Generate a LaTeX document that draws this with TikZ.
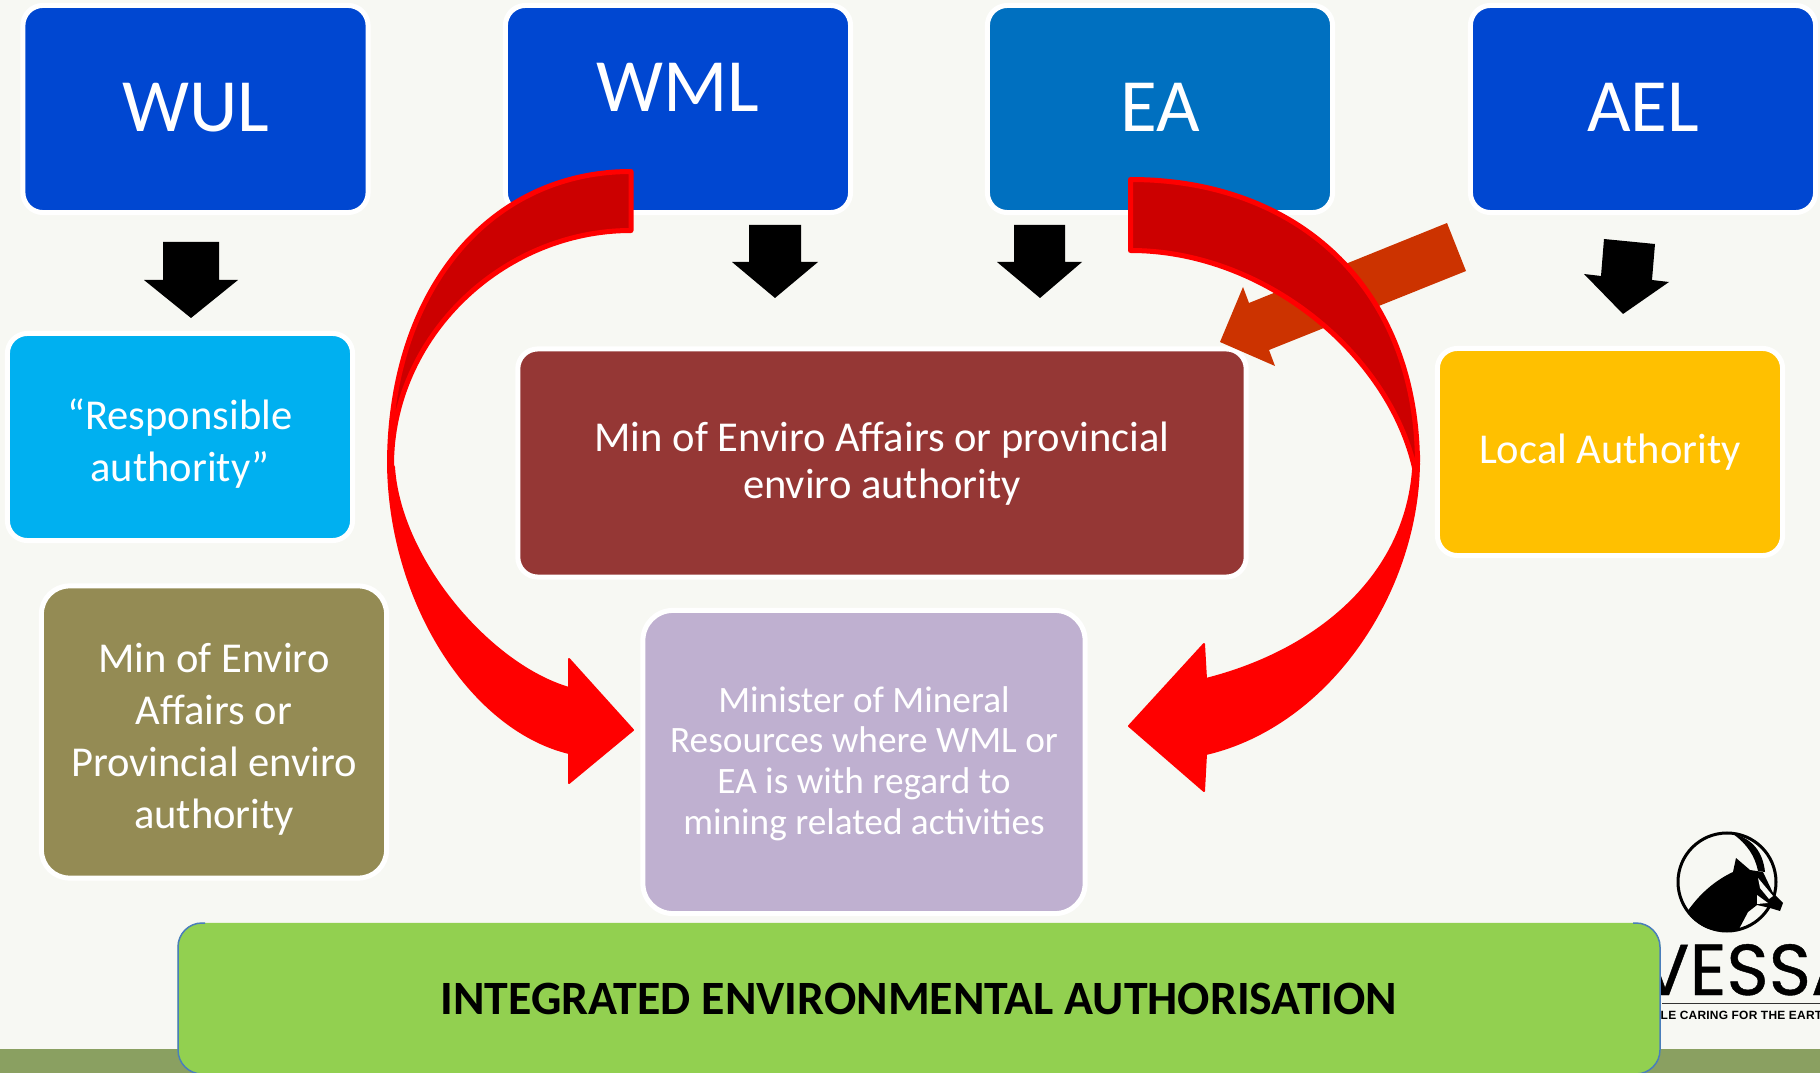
\documentclass[tikz,border=0pt]{standalone}
\usepackage{fontspec}
\setmainfont{Carlito}
\newfontfamily\logofont[FakeBold=0.6]{Poppins}
\newfontfamily\tagfont[LetterSpace=2]{Liberation Sans}
\definecolor{pagecol}{HTML}{F7F8F3}
\definecolor{bandcol}{HTML}{8AA061}
\definecolor{bluecol}{HTML}{0047D1}
\definecolor{eacol}{HTML}{0070C0}
\definecolor{cyancol}{HTML}{00B0F0}
\definecolor{olivecol}{HTML}{948B54}
\definecolor{browncol}{HTML}{953735}
\definecolor{lilaccol}{HTML}{BFB0D0}
\definecolor{yellowcol}{HTML}{FFC000}
\definecolor{greencol}{HTML}{92D050}
\definecolor{edgecol}{HTML}{4A7EBB}
\definecolor{orangecol}{HTML}{CC3300}
\definecolor{darkredcol}{HTML}{CC0000}
\newcommand{\toprule}[1]{\rule{0pt}{#1}}
\begin{document}
\begin{tikzpicture}[x=0.01cm,y=-0.01cm,
	box_node/.style={rectangle,draw=white,line width=0.05cm,rounded corners=0.2cm,inner sep=0pt,text=white,align=center,minimum width=3.45cm,minimum height=2.07cm},
	big_text/.style={font=\fontsize{21.4}{25}\selectfont},
	mid_text/.style={font=\fontsize{12.1}{14.8}\selectfont},
	wide_text/.style={font=\fontsize{12.1}{13.4}\selectfont},
	small_text/.style={font=\fontsize{10.6}{11.6}\selectfont},
	block_arrow/.style={fill=black},
	curve_head/.style={fill=red,draw=red,line width=0.02cm,line join=round},
	curve_tail/.style={fill=darkredcol,draw=red,line width=0.05cm,line join=round}]
	
	\useasboundingbox (0,0) rectangle (1820,1073);
	\fill[pagecol] (0,0) rectangle (1820,1073);
	\fill[bandcol] (0,1049) rectangle (1820,1073);
	
	\draw[line width=0.03cm] (1727,882) circle (49);
	\fill[black] (1687,912) .. controls (1700,893) and (1716,880) .. (1733,872) -- (1736,858) -- (1750,870) -- (1763,872) -- (1773,893) -- (1783,903) -- (1780,911) -- (1770,908) -- (1757,905) -- (1748,912) -- (1739,929) .. controls (1720,935) and (1700,930) .. (1687,912) -- cycle;
	\fill[black] (1733,834) .. controls (1752,838) and (1763,852) .. (1765,872) -- (1758,871) .. controls (1755,856) and (1747,844) .. (1733,834) -- cycle;
	\fill[pagecol] (1758,878) -- (1773,896) -- (1769,899) -- (1760,888) -- cycle;
	\fill[pagecol] (1757,895) -- (1768,903) -- (1757,904) -- cycle;
	\node[anchor=base west,inner sep=0pt,font=\logofont\fontsize{20.5}{24}\selectfont] (logo_name) at (1640,995) {VESSA};
	\draw[line width=0.01cm,black!80] (1662,1003) -- (1820,1003);
	\node[anchor=base west,inner sep=0pt,font=\tagfont\bfseries\fontsize{3.4}{5}\selectfont] (logo_tag) at (1660,1019) {LE CARING FOR THE EART};
	
	\node[box_node,big_text,fill=bluecol] (wul) at (195.5,109) {\raisebox{0.04cm}{WUL}};
	\node[box_node,big_text,fill=bluecol] (wml) at (678,109) {\raisebox{0.44cm}{WML}};
	\node[box_node,big_text,fill=eacol] (ea) at (1160,109) {\raisebox{0.04cm}{EA}};
	\node[box_node,big_text,fill=bluecol] (ael) at (1643,109) {\raisebox{0.04cm}{AEL}};
	
	\node[box_node,mid_text,fill=cyancol] (resp) at (180,437) {\toprule{0.43cm}“Responsible\\authority”};
	\node[box_node,mid_text,fill=olivecol,minimum height=2.92cm,rounded corners=0.28cm] (prov) at (214,732) {\toprule{0.43cm}Min of Enviro\\Affairs or\\Provincial enviro\\authority};
	\node[box_node,wide_text,fill=browncol,minimum width=7.28cm,minimum height=2.28cm] (mea) at (882,463) {\toprule{0.31cm}Min of Enviro Affairs or provincial\\enviro authority};
	\node[box_node,small_text,fill=lilaccol,minimum width=4.42cm,minimum height=3.03cm,rounded corners=0.3cm] (dmr) at (864,762) {\toprule{0.29cm}Minister of Mineral\\Resources where WML or\\EA is with regard to\\mining related activities};
	\node[box_node,wide_text,fill=yellowcol] (local) at (1610,452) {\raisebox{-0.05cm}{Local Authority}};
	
	\fill[block_arrow] (163,242) -- (219,242) -- (219,280) -- (238,280) -- (191,318) -- (144,280) -- (163,280) -- cycle;
	\fill[block_arrow] (749,225) -- (801,225) -- (801,262) -- (818,262) -- (775,298) -- (732,262) -- (749,262) -- cycle;
	\fill[block_arrow] (1014,225) -- (1065,225) -- (1065,262) -- (1082,262) -- (1040,298) -- (997,262) -- (1014,262) -- cycle;
	\fill[block_arrow] (1604,239) -- (1655,244) -- (1652,280) -- (1669,282) -- (1623,314) -- (1584,274) -- (1601,276) -- cycle;
	
	\fill[orangecol] (1447,223) -- (1466,271) -- (1269,350) -- (1275,366) -- (1220,342) -- (1243,287) -- (1249,303) -- cycle;
	
	\draw[curve_head] (388,455) -- (388,460) .. controls (388,600) and (470,729) .. (569,753) -- (569,783) -- (633,730) -- (569,659) -- (569,688) .. controls (490,665) and (400,560) .. (394,467) -- cycle;
	\draw[curve_tail] (631,171.5) .. controls (490,171.5) and (389.5,290) .. (389.5,465) -- (391.5,465) .. controls (391.5,337) and (502,230.5) .. (631,230.5) -- cycle;
	\draw[curve_head] (1419,455) -- (1419,460) .. controls (1419,590) and (1330,725) .. (1206,754) -- (1204,791) -- (1129,726) -- (1204,644) -- (1206,679) .. controls (1320,650) and (1405,575) .. (1413,470) -- cycle;
	\draw[curve_tail] (1130.5,179.5) .. controls (1300,179.5) and (1417.5,290) .. (1417.5,465) -- (1415,470) .. controls (1390,355) and (1265,250.5) .. (1130.5,250.5) -- cycle;
	
	\node[inner sep=0pt,minimum width=14.82cm,minimum height=1.51cm,rounded corners=0.24cm,fill=greencol,font=\bfseries\fontsize{13.6}{16}\selectfont] (iea) at (919,998.5) {\raisebox{-0.05cm}{INTEGRATED ENVIRONMENTAL AUTHORISATION}};
	\draw[edgecol,line width=0.015cm,rounded corners=0.24cm] (205,923) -- (178,923) -- (178,1074) -- (205,1074);
	\draw[edgecol,line width=0.015cm,rounded corners=0.24cm] (1633,923) -- (1660,923) -- (1660,1074) -- (1633,1074);
	\end{tikzpicture}
\end{document}
